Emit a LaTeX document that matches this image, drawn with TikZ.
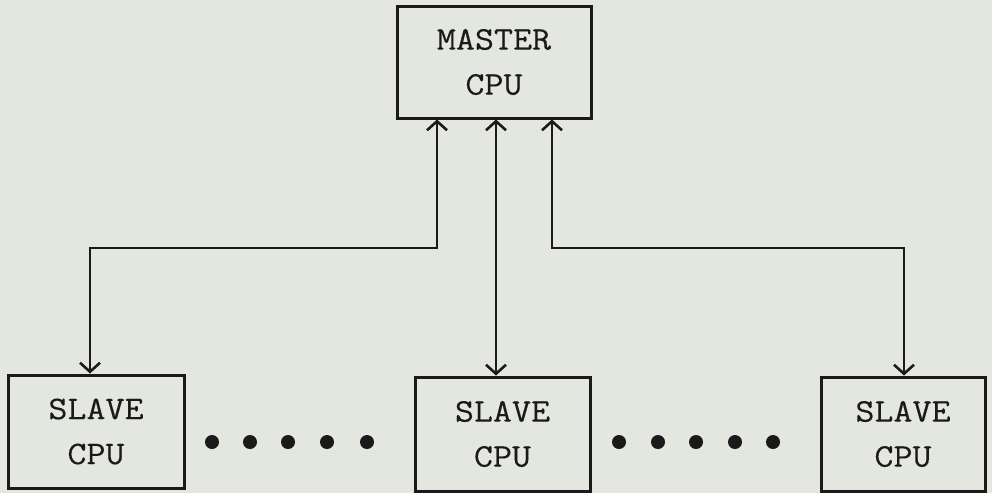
\documentclass[tikz,border=0pt]{standalone}
\usepackage{fontspec}
\setmonofont{Latin Modern Mono}[FakeStretch=1.12,FakeBold=0.25]
\usetikzlibrary{arrows.meta}
\definecolor{paper}{HTML}{E3E7DF}
\definecolor{ink}{HTML}{1A1A1A}
\tikzset{
  cpubox/.style={draw=ink, line width=3pt, inner sep=0pt, align=center,
    font=\fontsize{33}{45}\selectfont\ttfamily, text=ink},
  link/.style={draw=ink, line width=2.8pt, {Straight Barb[length=9pt,width=20pt,line width=2.6pt]}-{Straight Barb[length=9pt,width=20pt,line width=2.6pt]}},
  dot/.style={fill=ink}
}
\begin{document}
\begin{tikzpicture}[x=1pt,y=-1pt]
\useasboundingbox (0,0) rectangle (992,493);
\fill[paper] (0,0) rectangle (992,493);
% boxes
\node[cpubox, minimum width=194pt, minimum height=112pt] (master) at (494,62) {MASTER\\CPU};
\node[cpubox, minimum width=176pt, minimum height=113pt] (s1) at (96,431.5) {SLAVE\\CPU};
\node[cpubox, minimum width=175pt, minimum height=114pt] (s2) at (502.5,434) {SLAVE\\CPU};
\node[cpubox, minimum width=164pt, minimum height=114pt] (s3) at (903,434) {SLAVE\\CPU};
% junction coordinates
\coordinate (ml) at (437,248);
\coordinate (mr) at (552,248);
\coordinate (mm) at (496,0);
% connectors
\draw[link] (ml |- master.south) -- (ml) -| ([xshift=-6pt]s1.north);
\draw[link] (mm |- master.south) -- (mm |- s2.north);
\draw[link] (mr |- master.south) -- (mr) -| ([xshift=1pt]s3.north);
% dots
\foreach \x in {212,250,288,327,367} \fill[dot] (\x,442) circle (7pt);
\foreach \x in {619,658,696,735,773} \fill[dot] (\x,442) circle (7pt);
\end{tikzpicture}
\end{document}
